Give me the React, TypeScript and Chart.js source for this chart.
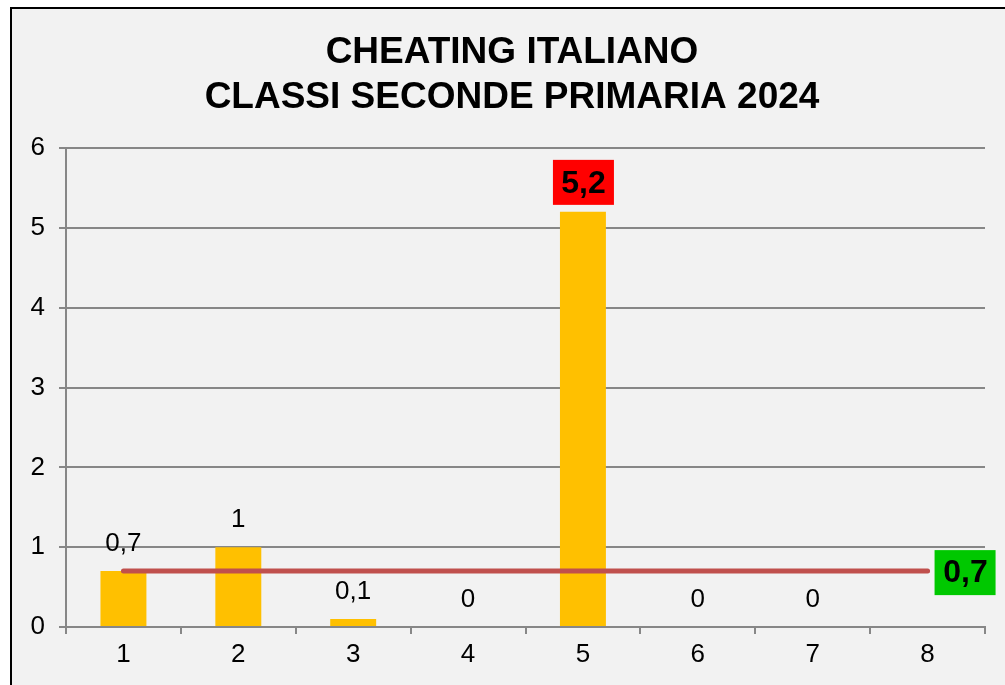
import React, { useEffect, useRef } from "react";
import { Chart, registerables } from "chart.js";

Chart.register(...registerables);

const categories = ["1", "2", "3", "4", "5", "6", "7", "8"];
const cheatingValues: (number | null)[] = [0.7, 1, 0.1, 0, 5.2, 0, 0, null];
const averageValue = 0.7;
const averageLine = categories.map(() => averageValue);
const titleLines = ["CHEATING ITALIANO", "CLASSI SECONDE PRIMARIA 2024"];
const highlightIndex = 4;

const FONT = "'Liberation Sans', Arial, Helvetica, sans-serif";
const fmt = (v: number) => String(v).replace(".", ",");

export default function App() {
  const ref = useRef<HTMLCanvasElement | null>(null);

  useEffect(() => {
    const canvas = ref.current;
    if (!canvas) return;

    const decor = {
      id: "decor",
      beforeDraw(chart: any) {
        const ctx = chart.ctx;
        ctx.save();
        ctx.fillStyle = "#ffffff";
        ctx.fillRect(0, 0, chart.width, chart.height);
        ctx.fillStyle = "#f2f2f2";
        ctx.fillRect(11, 8, chart.width, chart.height);
        ctx.strokeStyle = "#000000";
        ctx.lineWidth = 2;
        ctx.beginPath();
        ctx.moveTo(11, chart.height + 5);
        ctx.lineTo(11, 8);
        ctx.lineTo(chart.width + 5, 8);
        ctx.stroke();
        ctx.fillStyle = "#000000";
        ctx.font = `bold 37px ${FONT}`;
        ctx.textAlign = "center";
        ctx.textBaseline = "middle";
        ctx.fillText(titleLines[0], 512, 53);
        ctx.fillText(titleLines[1], 512, 98);
        ctx.restore();
      },
      afterDraw(chart: any) {
        const ctx = chart.ctx;
        const barMeta = chart.getDatasetMeta(0);
        const lineMeta = chart.getDatasetMeta(1);
        ctx.save();
        ctx.textAlign = "center";
        ctx.textBaseline = "middle";
        barMeta.data.forEach((el: any, i: number) => {
          const v = cheatingValues[i];
          if (v === null || v === undefined) return;
          const x = el.x;
          const y = el.y;
          if (i === highlightIndex) {
            ctx.fillStyle = "#ff0000";
            ctx.fillRect(x - 30, y - 52, 61, 45);
            ctx.fillStyle = "#000000";
            ctx.font = `bold 32px ${FONT}`;
            ctx.fillText(fmt(v), x + 0.5, y - 28);
          } else {
            ctx.fillStyle = "#000000";
            ctx.font = `26px ${FONT}`;
            ctx.fillText(fmt(v), x, y - 27);
          }
        });
        const last = lineMeta.data[lineMeta.data.length - 1];
        if (last) {
          const x = last.x + 7;
          const y = last.y;
          ctx.fillStyle = "#00c800";
          ctx.fillRect(x, y - 21, 61, 45);
          ctx.fillStyle = "#000000";
          ctx.font = `bold 32px ${FONT}`;
          ctx.fillText(fmt(averageValue), x + 31, y + 2.5);
        }
        ctx.restore();
      },
    };

    const chart = new Chart(canvas, {
      type: "bar",
      data: {
        labels: categories,
        datasets: [
          {
            type: "bar",
            data: cheatingValues as any,
            backgroundColor: "#ffc000",
            borderWidth: 0,
            barPercentage: 0.4,
            categoryPercentage: 1,
            order: 2,
          },
          {
            type: "line",
            data: averageLine,
            borderColor: "#c0504d",
            borderWidth: 5,
            borderCapStyle: "round",
            pointRadius: 0,
            fill: false,
            order: 1,
          } as any,
        ],
      },
      options: {
        responsive: false,
        animation: false,
        events: [],
        layout: { padding: { left: 0, right: 20, top: 148, bottom: 0 } },
        plugins: {
          legend: { display: false },
          title: { display: false },
          tooltip: { enabled: false },
        },
        scales: {
          x: {
            offset: true,
            grid: {
              offset: true,
              drawOnChartArea: false,
              drawTicks: true,
              tickLength: 7,
              color: "#878787",
              lineWidth: 2,
            },
            border: { display: true, color: "#878787", width: 2 },
            ticks: {
              color: "#000000",
              font: { family: FONT, size: 26 },
              padding: 5,
            },
            afterFit: (s: any) => {
              s.height = 58;
            },
          },
          y: {
            min: 0,
            max: 6,
            ticks: {
              stepSize: 1,
              color: "#000000",
              font: { family: FONT, size: 26 },
              padding: 14,
            },
            grid: {
              color: "#878787",
              lineWidth: 2,
              tickLength: 7,
              drawTicks: true,
            },
            border: { display: true, color: "#878787", width: 2 },
            afterFit: (s: any) => {
              s.width = 66;
            },
          },
        },
      },
      plugins: [decor],
    });

    return () => chart.destroy();
  }, []);

  return (
    <div style={{ position: "fixed", left: 0, top: 0, width: 1005, height: 685 }}>
      <canvas ref={ref} width={1005} height={685} style={{ display: "block" }} />
    </div>
  );
}
